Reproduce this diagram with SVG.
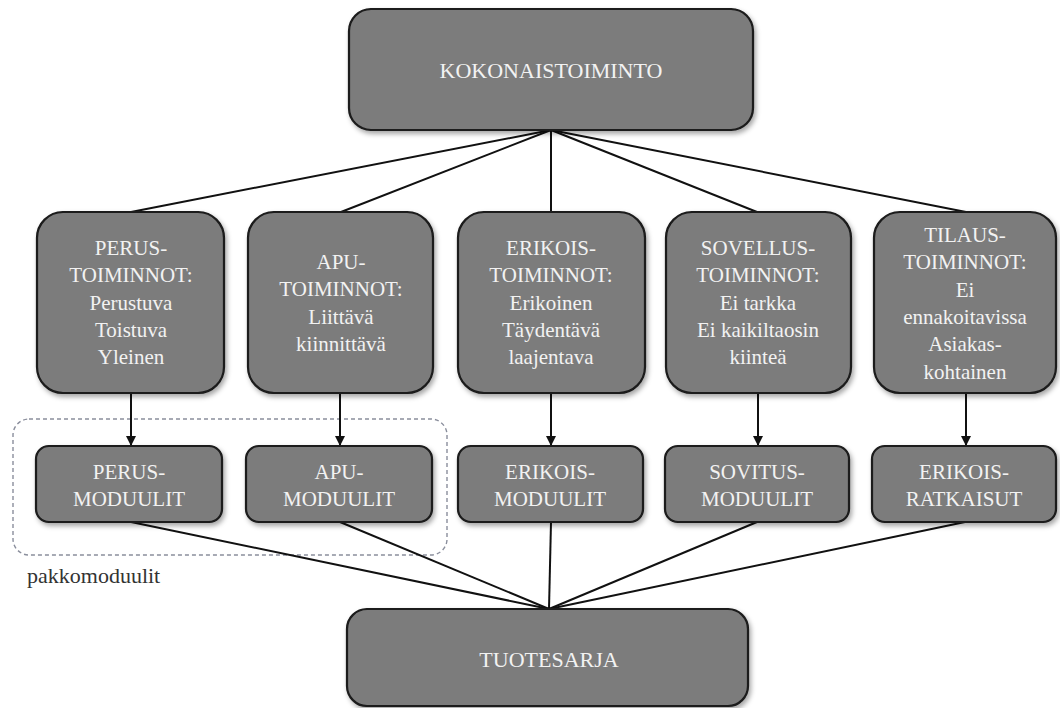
<svg xmlns="http://www.w3.org/2000/svg" width="1060" height="708" viewBox="0 0 1060 708">
<defs>
<filter id="sh" x="-10%" y="-10%" width="125%" height="130%">
<feDropShadow dx="2" dy="3" stdDeviation="2.5" flood-color="#000" flood-opacity="0.35"/>
</filter>
<marker id="arr" viewBox="0 0 10 10" refX="10" refY="5" markerWidth="5" markerHeight="5" orient="auto" markerUnits="strokeWidth">
<path d="M0,0 L10,5 L0,10 z" fill="#111"/>
</marker>
<style>
.box{fill:#7b7b7b;stroke:#1a1a1a;stroke-width:2.2;filter:url(#sh)}
.t{font-family:'Liberation Serif','Times New Roman',serif;fill:#f2f2f2;text-anchor:middle}
.t21{font-size:21px}
.t22{font-size:22px}
.c{stroke:#111;stroke-width:2;fill:none}
.lbl{font-family:'Liberation Serif','Times New Roman',serif;font-size:22px;fill:#333}
</style>
</defs>
<rect width="1060" height="708" fill="#fff"/>

<g id="group-pakkomoduulit">
<rect x="13" y="419" width="434" height="136" rx="16" fill="none" stroke="#8a8e9c" stroke-width="1.4" stroke-dasharray="4,3"/>
<text class="lbl" x="27" y="583">pakkomoduulit</text>
</g>

<g id="connectors">
<line class="c" x1="551" y1="130" x2="131" y2="212"/>
<line class="c" x1="551" y1="130" x2="341" y2="212"/>
<line class="c" x1="551" y1="130" x2="551" y2="212"/>
<line class="c" x1="551" y1="130" x2="757" y2="212"/>
<line class="c" x1="551" y1="130" x2="966" y2="212"/>
<line class="c" x1="131" y1="393" x2="131" y2="446" marker-end="url(#arr)"/>
<line class="c" x1="340" y1="393" x2="340" y2="446" marker-end="url(#arr)"/>
<line class="c" x1="551" y1="393" x2="551" y2="446" marker-end="url(#arr)"/>
<line class="c" x1="758" y1="393" x2="758" y2="446" marker-end="url(#arr)"/>
<line class="c" x1="966" y1="393" x2="966" y2="446" marker-end="url(#arr)"/>
<line class="c" x1="131" y1="522" x2="549" y2="609"/>
<line class="c" x1="340" y1="522" x2="549" y2="609"/>
<line class="c" x1="551" y1="522" x2="549" y2="609"/>
<line class="c" x1="757" y1="522" x2="549" y2="609"/>
<line class="c" x1="965" y1="522" x2="549" y2="609"/>
</g>

<g id="kokonaistoiminto">
<rect class="box" x="349" y="9" width="404" height="121" rx="22"/>
<text class="t t22" x="551" y="78">KOKONAISTOIMINTO</text>
</g>

<g id="perustoiminnot">
<rect class="box" x="37" y="212" width="187" height="181" rx="26"/>
<text class="t t21" x="131" y="255">PERUS-<tspan x="131" dy="27.3">TOIMINNOT:</tspan><tspan x="131" dy="27.3">Perustuva</tspan><tspan x="131" dy="27.3">Toistuva</tspan><tspan x="131" dy="27.3">Yleinen</tspan></text>
</g>

<g id="aputoiminnot">
<rect class="box" x="248" y="212" width="185" height="181" rx="26"/>
<text class="t t21" x="341" y="269">APU-<tspan x="341" dy="27.3">TOIMINNOT:</tspan><tspan x="341" dy="27.3">Liittävä</tspan><tspan x="341" dy="27.3">kiinnittävä</tspan></text>
</g>

<g id="erikoistoiminnot">
<rect class="box" x="458" y="212" width="187" height="181" rx="26"/>
<text class="t t21" x="551" y="255">ERIKOIS-<tspan x="551" dy="27.3">TOIMINNOT:</tspan><tspan x="551" dy="27.3">Erikoinen</tspan><tspan x="551" dy="27.3">Täydentävä</tspan><tspan x="551" dy="27.3">laajentava</tspan></text>
</g>

<g id="sovellustoiminnot">
<rect class="box" x="666" y="212" width="185" height="181" rx="26"/>
<text class="t t21" x="758" y="255">SOVELLUS-<tspan x="758" dy="27.3">TOIMINNOT:</tspan><tspan x="758" dy="27.3">Ei tarkka</tspan><tspan x="758" dy="27.3">Ei kaikiltaosin</tspan><tspan x="758" dy="27.3">kiinteä</tspan></text>
</g>

<g id="tilaustoiminnot">
<rect class="box" x="874" y="212" width="182" height="181" rx="26"/>
<text class="t t21" x="965" y="242">TILAUS-<tspan x="965" dy="27.3">TOIMINNOT:</tspan><tspan x="965" dy="27.3">Ei</tspan><tspan x="965" dy="27.3">ennakoitavissa</tspan><tspan x="965" dy="27.3">Asiakas-</tspan><tspan x="965" dy="27.3">kohtainen</tspan></text>
</g>

<g id="perusmoduulit">
<rect class="box" x="36" y="446" width="186" height="76" rx="13"/>
<text class="t t21" x="129" y="479">PERUS-<tspan x="129" dy="27">MODUULIT</tspan></text>
</g>

<g id="apumoduulit">
<rect class="box" x="246" y="446" width="186" height="76" rx="13"/>
<text class="t t21" x="339" y="479">APU-<tspan x="339" dy="27">MODUULIT</tspan></text>
</g>

<g id="erikoismoduulit">
<rect class="box" x="458" y="446" width="185" height="76" rx="13"/>
<text class="t t21" x="550" y="479">ERIKOIS-<tspan x="550" dy="27">MODUULIT</tspan></text>
</g>

<g id="sovitusmoduulit">
<rect class="box" x="665" y="446" width="184" height="76" rx="13"/>
<text class="t t21" x="757" y="479">SOVITUS-<tspan x="757" dy="27">MODUULIT</tspan></text>
</g>

<g id="erikoisratkaisut">
<rect class="box" x="872" y="446" width="184" height="76" rx="13"/>
<text class="t t21" x="964" y="479">ERIKOIS-<tspan x="964" dy="27">RATKAISUT</tspan></text>
</g>

<g id="tuotesarja">
<rect class="box" x="347" y="609" width="401" height="97" rx="20"/>
<text class="t t22" x="549" y="667">TUOTESARJA</text>
</g>
</svg>
